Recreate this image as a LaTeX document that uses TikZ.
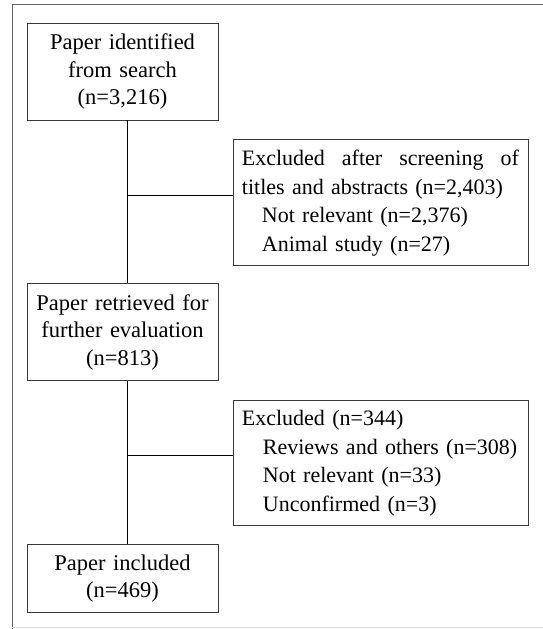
\documentclass[tikz,border=0pt]{standalone}
\usepackage{fontspec}
\setmainfont{Liberation Serif}
\usepackage{tikz}
\usetikzlibrary{positioning}
\usepackage{xcolor}
\definecolor{flowedge}{HTML}{3A3A3A}
\definecolor{flowframe}{HTML}{666666}
\definecolor{flowfaint}{HTML}{D8D8D8}
\tikzset{
  flowbox/.style={
    rectangle,
    draw=flowedge,
    line width=0.9pt,
    align=center,
    text width=183pt,
    inner xsep=4pt,
    inner ysep=0pt,
    font=\fontsize{22.5}{27.5}\selectfont
  },
  flowexcl/.style={flowbox, align=left, text width=279pt, inner xsep=8pt,
    minimum height=126pt, font=\fontsize{22}{28.5}\selectfont},
  flowline/.style={draw=black, line width=0.8pt}
}

\begin{document}
\begin{tikzpicture}[x=1pt,y=1pt]
\useasboundingbox (0,0) rectangle (543,-629);
% outer frame
\draw[flowframe, line width=0.9pt] (12,-629) -- (12,-4) -- (543,-4);
\draw[flowfaint, line width=0.9pt] (12,-627) -- (543,-627);
\node[flowbox, minimum height=97pt] (a) at (122.5,-71.5) {Paper identified\\from search\\(n=3,216)};
\node[flowbox, minimum height=97pt, below=163pt of a] (c) {Paper retrieved for\\further evaluation\\(n=813)};
\node[flowbox, minimum height=68pt, below=163pt of c] (e) {Paper included\\(n=469)};
\node[flowexcl, anchor=north west] (b) at ([xshift=15pt,yshift=-19pt]a.south east)
  {\makebox[277pt][s]{\spaceskip=.25em plus 1fil Excluded after screening of}\\
   titles and abstracts (n=2,403)\\
   \hspace*{20pt}Not relevant (n=2,376)\\
   \hspace*{20pt}Animal study (n=27)};
\node[flowexcl, minimum height=125pt, anchor=north west] (d) at ([xshift=15pt,yshift=-19pt]c.south east)
  {Excluded (n=344)\\
   \hspace*{21pt}Reviews and others (n=308)\\
   \hspace*{21pt}Not relevant (n=33)\\
   \hspace*{21pt}Unconfirmed (n=3)};
% trunk and branches
\coordinate (t1) at ([xshift=5pt]a.south);
\coordinate (t2) at ([xshift=5pt]c.south);
\coordinate (j1) at ([yshift=8pt]b.west);
\coordinate (j2) at ([yshift=8pt]d.west);
\draw[flowline] (t1) -- (t1 |- c.north);
\draw[flowline] (t2) -- (t2 |- e.north);
\draw[flowline] (j1) -- (j1 -| t1);
\draw[flowline] (j2) -- (j2 -| t2);
\end{tikzpicture}
\end{document}
